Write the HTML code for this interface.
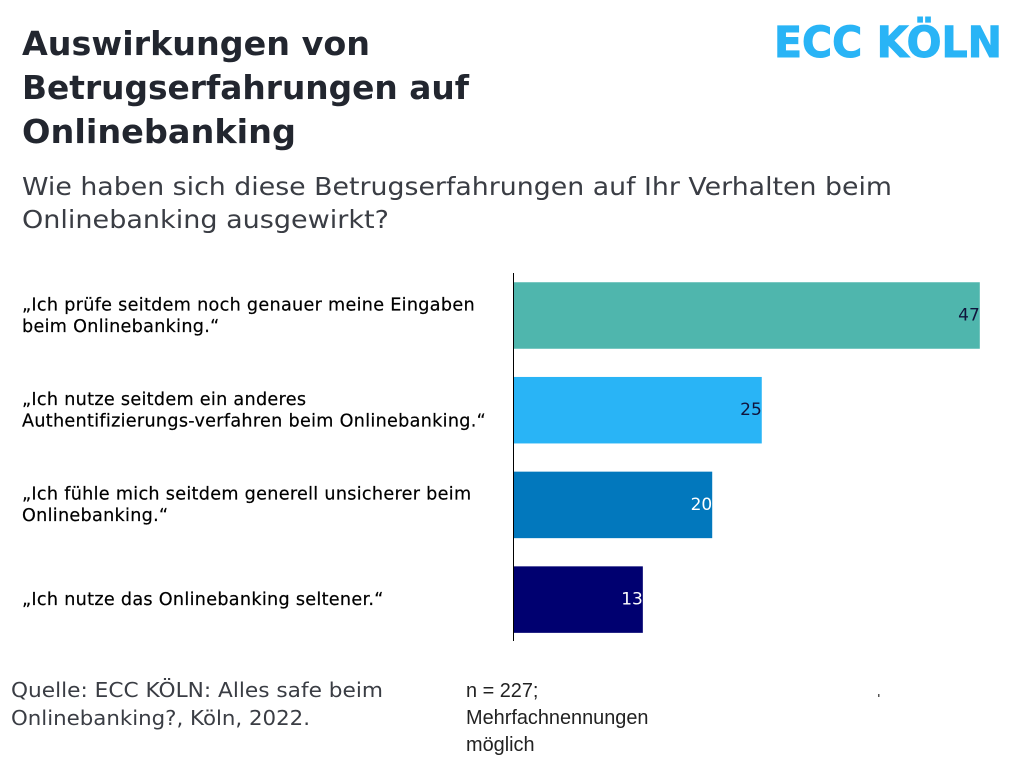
<!DOCTYPE html>
<html lang="de">
<head>
<meta charset="utf-8">
<title>Auswirkungen von Betrugserfahrungen auf Onlinebanking</title>
<style>
html,body{margin:0;padding:0;background:#fff;width:1024px;height:768px;overflow:hidden}
svg{display:block}
.title{font-family:"DejaVu Sans",sans-serif;font-weight:700;font-size:33px;fill:#22262f}
.sub{font-family:"DejaVu Sans",sans-serif;font-size:25px;fill:#3a3d44}
.src{font-family:"DejaVu Sans",sans-serif;font-size:20px;fill:#3a3d44}
.n{font-family:"Liberation Sans",sans-serif;font-size:19.9px;fill:#222}
.cat{font-family:"DejaVu Sans",sans-serif;font-size:17.6px;letter-spacing:.3px;fill:#000;stroke:#000;stroke-width:.2px}
.val{font-family:"DejaVu Sans",sans-serif;font-size:17px;text-anchor:end}
.logo{font-family:"DejaVu Sans",sans-serif;font-weight:700;font-size:43px;fill:#29b4f6;stroke:#29b4f6;stroke-width:1px}
</style>
</head>
<body>
<svg id="chart" width="1024" height="768" viewBox="0 0 1024 768" xmlns="http://www.w3.org/2000/svg">
  <g>
    <text class="title" x="22" y="55" textLength="348" lengthAdjust="spacingAndGlyphs">Auswirkungen von</text>
    <text class="title" x="22" y="99" textLength="447" lengthAdjust="spacingAndGlyphs">Betrugserfahrungen auf</text>
    <text class="title" x="22" y="143" textLength="274" lengthAdjust="spacingAndGlyphs">Onlinebanking</text>
  </g>
  <g>
    <text class="sub" x="22" y="195" textLength="870" lengthAdjust="spacingAndGlyphs">Wie haben sich diese Betrugserfahrungen auf Ihr Verhalten beim</text>
    <text class="sub" x="22" y="228" textLength="367" lengthAdjust="spacingAndGlyphs">Onlinebanking ausgewirkt?</text>
  </g>
  <text class="logo" x="774" y="57" textLength="228" lengthAdjust="spacingAndGlyphs">ECC KÖLN</text>
  <g id="bars"></g>
  <g id="cats"></g>
  <line x1="513.5" y1="273" x2="513.5" y2="641" stroke="#000" stroke-width="1"></line>
  <g>
    <text class="src" x="11" y="697" textLength="372" lengthAdjust="spacingAndGlyphs">Quelle: ECC KÖLN: Alles safe beim</text>
    <text class="src" x="11" y="725" textLength="299" lengthAdjust="spacingAndGlyphs">Onlinebanking?, Köln, 2022.</text>
  </g>
  <g>
    <text class="n" x="466" y="697">n = 227;</text>
    <text class="n" x="466" y="724">Mehrfachnennungen</text>
    <text class="n" x="466" y="751">möglich</text>
  </g>
  <rect x="878" y="694" width="1.5" height="3" fill="#555"></rect>
</svg>
<script>
const categories = [
  ["„Ich prüfe seitdem noch genauer meine Eingaben", "beim Onlinebanking.“"],
  ["„Ich nutze seitdem ein anderes", "Authentifizierungs-verfahren beim Onlinebanking.“"],
  ["„Ich fühle mich seitdem generell unsicherer beim", "Onlinebanking.“"],
  ["„Ich nutze das Onlinebanking seltener.“"]
];
const seriesValues = [47, 25, 20, 13];
const barColors = ["#4fb6ad", "#29b4f6", "#0278bd", "#000070"];
const valueColors = ["#10143c", "#10143c", "#ffffff", "#ffffff"];

const SVG_NS = "http://www.w3.org/2000/svg";
const plotLeft = 514, plotRight = 979.8;
const maxDomain = 47;
const firstBandCenter = 315.5, bandStep = 94.7, barHeight = 66.5;

function xScale(v) {
  return plotLeft + (v / maxDomain) * (plotRight - plotLeft);
}
function bandCenter(i) {
  return firstBandCenter + i * bandStep;
}

const barsGroup = document.getElementById("bars");
const catsGroup = document.getElementById("cats");

seriesValues.forEach(function (v, i) {
  const cy = bandCenter(i);

  const bar = document.createElementNS(SVG_NS, "rect");
  bar.setAttribute("x", plotLeft);
  bar.setAttribute("y", cy - barHeight / 2);
  bar.setAttribute("width", xScale(v) - plotLeft);
  bar.setAttribute("height", barHeight);
  bar.setAttribute("fill", barColors[i]);
  
  
  barsGroup.appendChild(bar);

  const label = document.createElementNS(SVG_NS, "text");
  label.setAttribute("class", "val");
  label.setAttribute("x", xScale(v));
  label.setAttribute("y", cy + 5);
  label.setAttribute("fill", valueColors[i]);
  label.textContent = String(v);
  
  
  barsGroup.appendChild(label);

  const lines = categories[i];
  const lineGap = 21.5;
  lines.forEach(function (line, j) {
    const t = document.createElementNS(SVG_NS, "text");
    t.setAttribute("class", "cat");
    t.setAttribute("x", 22);
    t.setAttribute("y", cy + 5.5 + (j - (lines.length - 1) / 2) * lineGap);
    t.textContent = line;
    
    
    catsGroup.appendChild(t);
  });
});
</script>
</body>
</html>
